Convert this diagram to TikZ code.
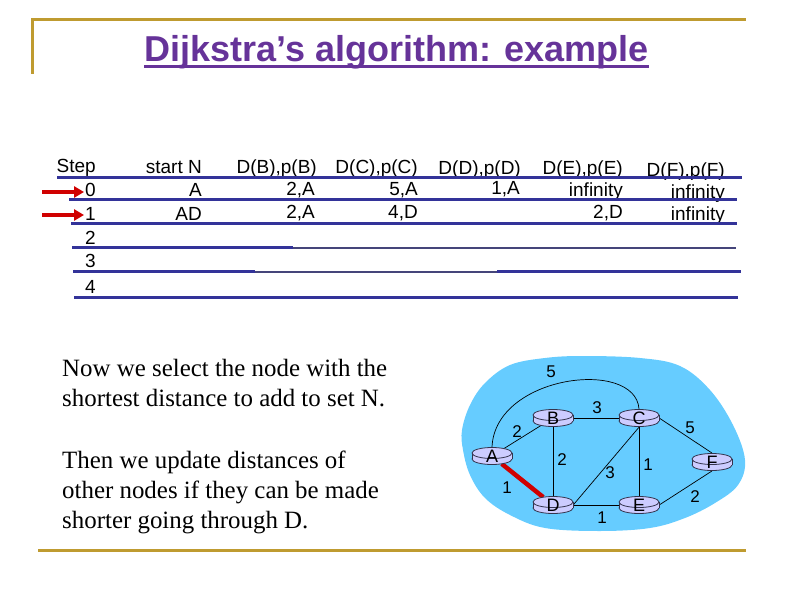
\documentclass[tikz,border=0pt]{standalone}
\usepackage{fontspec}
\setmainfont{Liberation Serif}
\setsansfont{Liberation Sans}
\definecolor{gold}    {HTML}{BF9B30}
\definecolor{headline}{HTML}{663399}
\definecolor{rule}    {HTML}{333399}
\definecolor{ruledark}{HTML}{45457A}
\definecolor{pickred} {HTML}{D00000}
\definecolor{cloud}   {HTML}{66CCFF}
\definecolor{rfill}   {HTML}{CCCCFF}
\definecolor{rline}   {HTML}{33334D}
\usetikzlibrary{arrows.meta,shapes.geometric}
\pgfdeclarelayer{back}
\pgfdeclarelayer{mid}
\pgfsetlayers{back,mid,main}
\tikzset{
  cell/.style={inner sep=0pt,anchor=base east,
               font=\fontsize{19}{22}\selectfont\sffamily},
  hline/.style={draw=rule,line width=3pt},
  hlinedark/.style={draw=ruledark,line width=2.4pt},
  pick/.style={-{Triangle[length=10pt,width=11pt]},draw=pickred,
               line width=4pt,shorten >=1pt},
  body/.style={inner sep=0pt,anchor=north west,align=left,
               font=\fontsize{24.9}{30}\selectfont},
  rnode/.style={ellipse,minimum width=40pt,minimum height=16pt,inner sep=0pt,
                font=\fontsize{18}{18}\selectfont\sffamily},
  rtr/.style={draw=rline,line width=0.8pt,fill=rfill},
  link/.style={draw=black,line width=0.7pt},
  chosen/.style={draw=pickred,line width=4.5pt},
  wt/.style={inner sep=0pt,font=\fontsize{17}{17}\selectfont\sffamily}
}
% router icon: name, x, y, label
\newcommand{\router}[4]{%
  \filldraw[rtr] (#2,#3+3) ellipse (20 and 5.5);
  \fill[rfill] (#2-20,#3-3) rectangle (#2+20,#3+3);
  \draw[rtr,fill=none] (#2-20,#3-3) -- (#2-20,#3+3) (#2+20,#3-3) -- (#2+20,#3+3);
  \filldraw[rtr] (#2,#3-3) ellipse (20 and 5.5);
  \node[rnode] (#1) at (#2,#3) {#4};}

\begin{document}
\begin{tikzpicture}[x=1pt,y=-1pt]
  \path[use as bounding box] (0,0) rectangle (792,612);

  % frame and title
  \draw[gold,line width=3pt] (32,74) -- (32,20) -- (746,20);
  \draw[gold,line width=3pt] (38,550) -- (746,550);
  \node[inner sep=0pt,anchor=base,text=headline,
        font=\fontsize{36}{40}\selectfont\sffamily\bfseries] (ttl) at (396.5,62)
        {Dijkstra’s algorithm: example};
  \draw[headline,line width=3pt] ([yshift=-5pt]ttl.base west) -- ([yshift=-5pt]ttl.base east);

  % table
  \node[cell] (hstep) at (96,173) {Step};
  \node[cell] (hN) at (202,174) {start N};
  \node[cell] (hB) at (317,174) {D(B),p(B)};
  \node[cell] (hC) at (418,174) {D(C),p(C)};
  \node[cell] (hD) at (521,175) {D(D),p(D)};
  \node[cell] (hE) at (623,175) {D(E),p(E)};
  \node[cell] (hF) at (725,177) {D(F),p(F)};

  \node[cell] (s0) at (96,197) {0};
  \node[cell] (n0) at (202,197) {A};
  \node[cell] (b0) at (315,196) {2,A};
  \node[cell] (c0) at (418,196) {5,A};
  \node[cell] (d0) at (520,195) {1,A};
  \node[cell] (e0) at (623,197) {infinity};
  \node[cell] (f0) at (725,199) {infinity};

  \node[cell] (s1) at (96,221) {1};
  \node[cell] (n1) at (202,221) {AD};
  \node[cell] (b1) at (315,219) {2,A};
  \node[cell] (c1) at (418,219) {4,D};
  \node[cell] (e1) at (623,219) {2,D};
  \node[cell] (f1) at (725,221) {infinity};

  \node[cell] (s2) at (96,245) {2};
  \node[cell] (s3) at (96,268) {3};
  \node[cell] (s4) at (96,293) {4};

  \draw[hline] (57,178) -- (742,178);
  \draw[hline] (69,200) -- (737,200);
  \draw[hline] (71,224) -- (737,224);
  \draw[hline] (72,248) -- (293,248);
  \draw[hlinedark] (293,248) -- (736,248);
  \draw[hline] (73,272) -- (255,272);
  \draw[hlinedark] (255,272) -- (497,272);
  \draw[hline] (497,272) -- (741,272);
  \draw[hline] (74,297) -- (738,297);

  \coordinate (p0) at (42,192);
  \coordinate (p1) at (42,215);
  \draw[pick] (p0) -- (p0 -| s0.west);
  \draw[pick] (p1) -- (p1 -| s1.west);

  % text
  \node[body] (para1) at (62,359)
    {Now we select the node with the\\shortest distance to add to set N.};
  \node[body] (para2) at (62,451)
    {Then we update distances of\\other nodes if they can be made\\shorter going through D.};

  % network
  \router{A}{492}{456}{A}
  \router{B}{553}{418}{B}
  \router{C}{639}{418}{C}
  \router{D}{553}{505}{D}
  \router{E}{639}{505}{E}
  \router{F}{712}{462}{F}

  \begin{pgfonlayer}{back}
    \fill[cloud] plot[smooth cycle,tension=0.6] coordinates {
      (583,356) (640,358) (680,366) (710,390) (733,425) (745,460) (738,485)
      (715,503) (685,518) (650,528) (600,531) (545,528) (510,515) (485,498)
      (470,475) (463,450) (462,430) (470,405) (485,383) (510,365) (545,358)};
  \end{pgfonlayer}

  \begin{pgfonlayer}{mid}
    \draw[link] (A) -- (B);
    \draw[link] (B) -- (C);
    \draw[link] (B) -- (D);
    \draw[link] (D.east) -- (C.south);
    \draw[link] (C) -- (E);
    \draw[link] (C.east) -- (F.north);
    \draw[link] (E.east) -- (F.south);
    \draw[link] (D.east) -- (E.west);
    \draw[link] (A.north) .. controls (495,375) and (635,358) .. (C.north);
    \draw[chosen] (A) -- (D);
  \end{pgfonlayer}

  \node[wt] (wAC) at (551,372) {5};
  \node[wt] (wBC) at (597,408) {3};
  \node[wt] (wAB) at (517,432) {2};
  \node[wt] (wBD) at (562,460) {2};
  \node[wt] (wDC) at (610,473) {3};
  \node[wt] (wCE) at (648,465) {1};
  \node[wt] (wCF) at (690,428) {5};
  \node[wt] (wAD) at (507,488) {1};
  \node[wt] (wDE) at (602,518) {1};
  \node[wt] (wEF) at (695,497) {2};
\end{tikzpicture}
\end{document}
